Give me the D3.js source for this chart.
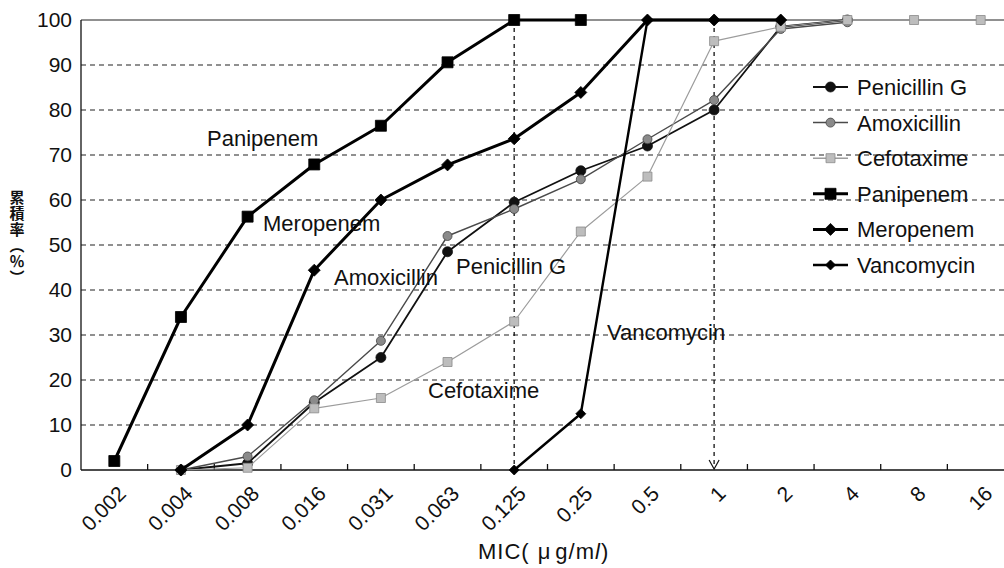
<!DOCTYPE html>
<html>
<head>
<meta charset="utf-8">
<script src="https://cdn.jsdelivr.net/npm/d3@7/dist/d3.min.js"></script>
<style>
  body { margin: 0; background: #fff; }
  text { font-family: "Liberation Sans", Arial, Helvetica, sans-serif; fill: #111; }
</style>
</head>
<body>
<svg id="chart" width="1004" height="568"></svg>
<script>
// MIC categories (µg/ml) on the horizontal axis
const mics = ["0.002", "0.004", "0.008", "0.016", "0.031", "0.063", "0.125", "0.25", "0.5", "1", "2", "4", "8", "16"];
const yTicks = [0, 10, 20, 30, 40, 50, 60, 70, 80, 90, 100];

// Cumulative inhibition rate (%) per MIC, null = no point
const penicillinG = [null, 0, 1.5, 15, 25, 48.5, 59.5, 66.5, 72, 80, 98.5, 100, null, null];
const amoxicillin = [null, 0, 3, 15.5, 28.7, 52, 58, 64.6, 73.5, 82.2, 98, 99.5, null, null];
const cefotaxime  = [null, 0, 0.5, 13.7, 16, 24, 33, 53, 65.2, 95.3, 98.5, 100, 100, 100];
const panipenem   = [2, 34, 56.3, 67.9, 76.5, 90.6, 100, 100, null, null, null, null, null, null];
const meropenem   = [null, 0, 10, 44.4, 60, 67.8, 73.6, 83.9, 100, 100, 100, null, null, null];
const vancomycin  = [null, null, null, null, null, null, 0, 12.5, 100, 100, 100, null, null, null];

const seriesNames = ["Penicillin G", "Amoxicillin", "Cefotaxime", "Panipenem", "Meropenem", "Vancomycin"];
const seriesValues = [penicillinG, amoxicillin, cefotaxime, panipenem, meropenem, vancomycin];

// Drawing styles for each drug
const styles = {
  "Penicillin G": { stroke: "#111", width: 1.8, shape: "circle",  size: 10,  fill: "#111", mstroke: "#111" },
  "Amoxicillin":  { stroke: "#4a4a4a", width: 1.4, shape: "circle", size: 9, fill: "#8a8a8a", mstroke: "#444" },
  "Cefotaxime":   { stroke: "#9c9c9c", width: 1.2, shape: "square", size: 9,  fill: "#bdbdbd", mstroke: "#8a8a8a" },
  "Panipenem":    { stroke: "#000", width: 3,   shape: "square",  size: 11,  fill: "#000", mstroke: "#000" },
  "Meropenem":    { stroke: "#000", width: 3,   shape: "diamond", size: 12,  fill: "#000", mstroke: "#000" },
  "Vancomycin":   { stroke: "#000", width: 2.4, shape: "diamond", size: 10,  fill: "#000", mstroke: "#000" }
};

const svg = d3.select("#chart");
svg.append("rect").attr("width", 1004).attr("height", 568).attr("fill", "#fff");

// Plot frame (the right edge runs past the visible canvas)
const plotLeft = 81, plotRight = 1014, plotTop = 20, plotBottom = 470;

const x = d3.scaleBand().domain(mics).range([plotLeft, plotRight]).padding(0);
const xc = c => x(c) + x.bandwidth() / 2;
const y = d3.scaleLinear().domain([0, 100]).range([plotBottom, plotTop]);

// Dashed horizontal gridlines
svg.append("g").selectAll("line")
  .data(yTicks.filter(t => t > 0 && t < 100))
  .join("line")
  .attr("x1", plotLeft).attr("x2", 1004)
  .attr("y1", d => y(d)).attr("y2", d => y(d))
  .attr("stroke", "#222").attr("stroke-width", 1.1)
  .attr("stroke-dasharray", "5,4");

// Solid top border of the plot area
svg.append("line")
  .attr("x1", plotLeft).attr("x2", 1004).attr("y1", y(100)).attr("y2", y(100))
  .attr("stroke", "#222").attr("stroke-width", 1.2);

// Vertical dashed reference lines at MIC 0.125 and 1
const refG = svg.append("g").attr("stroke", "#111").attr("stroke-width", 1.3).attr("fill", "none");
refG.append("line")
  .attr("x1", xc("0.125")).attr("x2", xc("0.125"))
  .attr("y1", y(100)).attr("y2", y(0))
  .attr("stroke-dasharray", "4,4");
refG.append("line")
  .attr("x1", xc("1")).attr("x2", xc("1"))
  .attr("y1", y(100)).attr("y2", y(0) - 2)
  .attr("stroke-dasharray", "4,4");
refG.append("path")
  .attr("d", `M${xc("1") - 5},${y(0) - 10}L${xc("1")},${y(0) - 1}L${xc("1") + 5},${y(0) - 10}`)
  .attr("stroke-width", 1.2);

// Axes
const axisG = svg.append("g");
axisG.append("line").attr("x1", plotLeft).attr("x2", plotLeft).attr("y1", y(100)).attr("y2", y(0))
  .attr("stroke", "#111").attr("stroke-width", 1.3);
axisG.append("line").attr("x1", plotLeft).attr("x2", 1004).attr("y1", y(0)).attr("y2", y(0))
  .attr("stroke", "#111").attr("stroke-width", 1.3);
// Category separators as inward tick marks
axisG.append("g").selectAll("line")
  .data(mics.slice(1))
  .join("line")
  .attr("x1", d => x(d)).attr("x2", d => x(d))
  .attr("y1", y(0)).attr("y2", y(0) - 6)
  .attr("stroke", "#111").attr("stroke-width", 1.3);

// Y tick labels
const yAxis = svg.append("g")
  .attr("transform", `translate(${plotLeft - 9},0)`)
  .call(d3.axisLeft(y).tickValues(yTicks).tickSize(0).tickPadding(0));
yAxis.select(".domain").remove();
yAxis.selectAll("text")
  .attr("font-size", 21).attr("fill", "#111")
  .attr("font-family", "'Liberation Sans', Arial, sans-serif");

// X tick labels, rotated
const xAxis = svg.append("g")
  .attr("transform", `translate(0,${y(0)})`)
  .call(d3.axisBottom(x).tickSize(0).tickPadding(0));
xAxis.select(".domain").remove();
xAxis.selectAll("text")
  .attr("font-size", 21).attr("fill", "#111")
  .attr("font-family", "'Liberation Sans', Arial, sans-serif")
  .attr("text-anchor", "end")
  .attr("dy", 0)
  .attr("y", 0)
  .attr("transform", "translate(13,25) rotate(-45)");

// Marker shapes
function markerPath(shape, s) {
  const h = s / 2;
  if (shape === "square") return `M${-h},${-h}H${h}V${h}H${-h}Z`;
  if (shape === "diamond") return `M0,${-h}L${h},0L0,${h}L${-h},0Z`;
  return d3.symbol(d3.symbolCircle, Math.PI * h * h)();
}

const line = d3.line()
  .defined(d => d.v !== null)
  .x(d => xc(d.c))
  .y(d => y(d.v));

// Series lines and markers
seriesNames.forEach((name, i) => {
  const st = styles[name];
  const pts = mics.map((c, j) => ({ c, v: seriesValues[i][j] }));
  const g = svg.append("g");
  g.append("path")
    .datum(pts)
    .attr("d", line)
    .attr("fill", "none")
    .attr("stroke", st.stroke)
    .attr("stroke-width", st.width)
    .attr("stroke-linejoin", "round");
  g.selectAll("path.m")
    .data(pts.filter(d => d.v !== null))
    .join("path")
    .attr("class", "m")
    .attr("transform", d => `translate(${xc(d.c)},${y(d.v)})`)
    .attr("d", markerPath(st.shape, st.size))
    .attr("fill", st.fill)
    .attr("stroke", st.mstroke)
    .attr("stroke-width", 0.8);
});

// In-plot series labels
const labels = [
  { t: "Panipenem", x: 207, y: 146 },
  { t: "Meropenem", x: 263, y: 231 },
  { t: "Amoxicillin", x: 334, y: 285 },
  { t: "Penicillin G", x: 456, y: 274 },
  { t: "Cefotaxime", x: 428, y: 398 },
  { t: "Vancomycin", x: 607, y: 340 }
];
svg.append("g").selectAll("text")
  .data(labels)
  .join("text")
  .attr("x", d => d.x).attr("y", d => d.y)
  .attr("font-size", 22)
  .text(d => d.t);

// Legend
const legend = svg.append("g");
seriesNames.forEach((name, i) => {
  const st = styles[name];
  const ly = 87 + i * 35.6;
  legend.append("line")
    .attr("x1", 813).attr("x2", 848).attr("y1", ly).attr("y2", ly)
    .attr("stroke", st.stroke).attr("stroke-width", Math.max(st.width, 1.5));
  legend.append("path")
    .attr("transform", `translate(830.5,${ly})`)
    .attr("d", markerPath(st.shape, st.size))
    .attr("fill", st.fill).attr("stroke", st.mstroke).attr("stroke-width", 0.8);
  legend.append("text")
    .attr("x", 857).attr("y", ly + 8)
    .attr("font-size", 22)
    .text(name);
});

// X-axis title
const xt = svg.append("text").attr("x", 478).attr("y", 559)
  .attr("font-size", 22).attr("letter-spacing", 1);
xt.append("tspan").text("MIC(");
xt.append("tspan").attr("dx", 8).text("μ");
xt.append("tspan").attr("dx", 4).text("g/m");
xt.append("tspan").attr("font-style", "italic").text("l");
xt.append("tspan").text(")");

// Vertical y-axis title: 累積率（％）
svg.append("text")
  .attr("x", 17).attr("y", 190)
  .style("writing-mode", "vertical-rl")
  .style("font-family", "'Noto Sans CJK JP', sans-serif")
  .style("font-weight", 700)
  .attr("font-size", 15)
  .attr("letter-spacing", 1)
  .text("累積率（％）");
</script>
</body>
</html>
